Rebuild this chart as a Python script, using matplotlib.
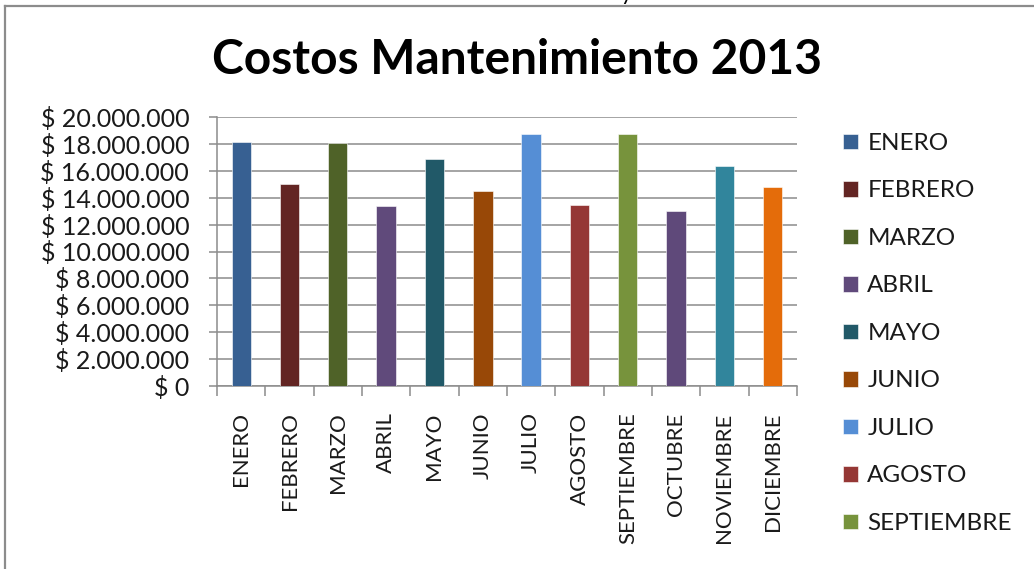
import matplotlib.pyplot as plt
from matplotlib.lines import Line2D
from matplotlib.ticker import FuncFormatter

meses = ['ENERO', 'FEBRERO', 'MARZO', 'ABRIL', 'MAYO', 'JUNIO', 'JULIO',
         'AGOSTO', 'SEPTIEMBRE', 'OCTUBRE', 'NOVIEMBRE', 'DICIEMBRE']
costos = [18150000, 15050000, 18050000, 13350000, 16850000, 14500000,
          18700000, 13450000, 18700000, 12980000, 16380000, 14780000]
colores = ['#376092', '#632523', '#4f6228', '#604a7b', '#215968', '#984807',
           '#558ed5', '#953735', '#77933c', '#5f497a', '#31859c', '#e46c0a']
# la leyenda solo alcanza a mostrar los primeros meses
en_leyenda = 9

plt.rcParams['font.family'] = ['Lato', 'DejaVu Sans']
gris = '#8c8c8c'

W, H = 1034, 569
fig = plt.figure(figsize=(W / 100, H / 100), dpi=100)
ax = fig.add_axes([217 / W, 1 - 386 / H, 580 / W, 269 / H])

# una serie por mes, cada una con una sola barra
barras = []
for i, (mes, valor, color) in enumerate(zip(meses, costos, colores)):
    b = ax.bar(i, valor, width=0.4, color=color, edgecolor='white',
               linewidth=0.4, label=mes, zorder=3)
    barras.append(b)

ax.set_xlim(-0.5, len(meses) - 0.5)
ax.set_ylim(0, 20000000)
ax.set_yticks(range(0, 20000001, 2000000))
ax.yaxis.set_major_formatter(FuncFormatter(
    lambda v, p: '$ ' + f'{v:,.0f}'.replace(',', '.')))
ax.grid(axis='y', color=gris, linewidth=1.1, zorder=0)

ax.set_xticks(range(len(meses)))
ax.set_xticklabels(meses, rotation=90, fontsize=16, color='#1a1a1a')
ax.set_xticks([i - 0.5 for i in range(len(meses) + 1)], minor=True)
ax.tick_params(axis='x', which='major', length=0, pad=19)
ax.tick_params(axis='x', which='minor', length=7, width=1.1, color=gris)
ax.tick_params(axis='y', length=6, width=1.1, color=gris, pad=14,
               labelsize=18, labelcolor='#1a1a1a')

for lado in ['top', 'right']:
    ax.spines[lado].set_visible(False)
for lado in ['left', 'bottom']:
    ax.spines[lado].set_color(gris)
    ax.spines[lado].set_linewidth(1.1)

fig.text(517 / W, 1 - 60 / H, 'Costos Mantenimiento 2013', fontsize=34.5,
         fontweight='bold', ha='center', va='center')
fig.text(627 / W, 1.0, 'y', fontsize=16, ha='center', va='baseline')

fig.legend(barras[:en_leyenda], meses[:en_leyenda], loc='upper left',
           bbox_to_anchor=(843 / W, 1 - 133 / H),
           frameon=False, fontsize=17.5, handlelength=0.6, handleheight=0.6,
           handletextpad=0.4, labelspacing=1.09, borderpad=0,
           borderaxespad=0, labelcolor='#1a1a1a')

# marco del área del gráfico
fig.add_artist(Line2D([5 / W, 5 / W], [0, 1 - 6 / H], transform=fig.transFigure,
                      color=gris, linewidth=1.6))
fig.add_artist(Line2D([5 / W, 1], [1 - 6 / H, 1 - 6 / H],
                      transform=fig.transFigure, color=gris, linewidth=1.6))

fig.savefig('out.png', dpi=100)
